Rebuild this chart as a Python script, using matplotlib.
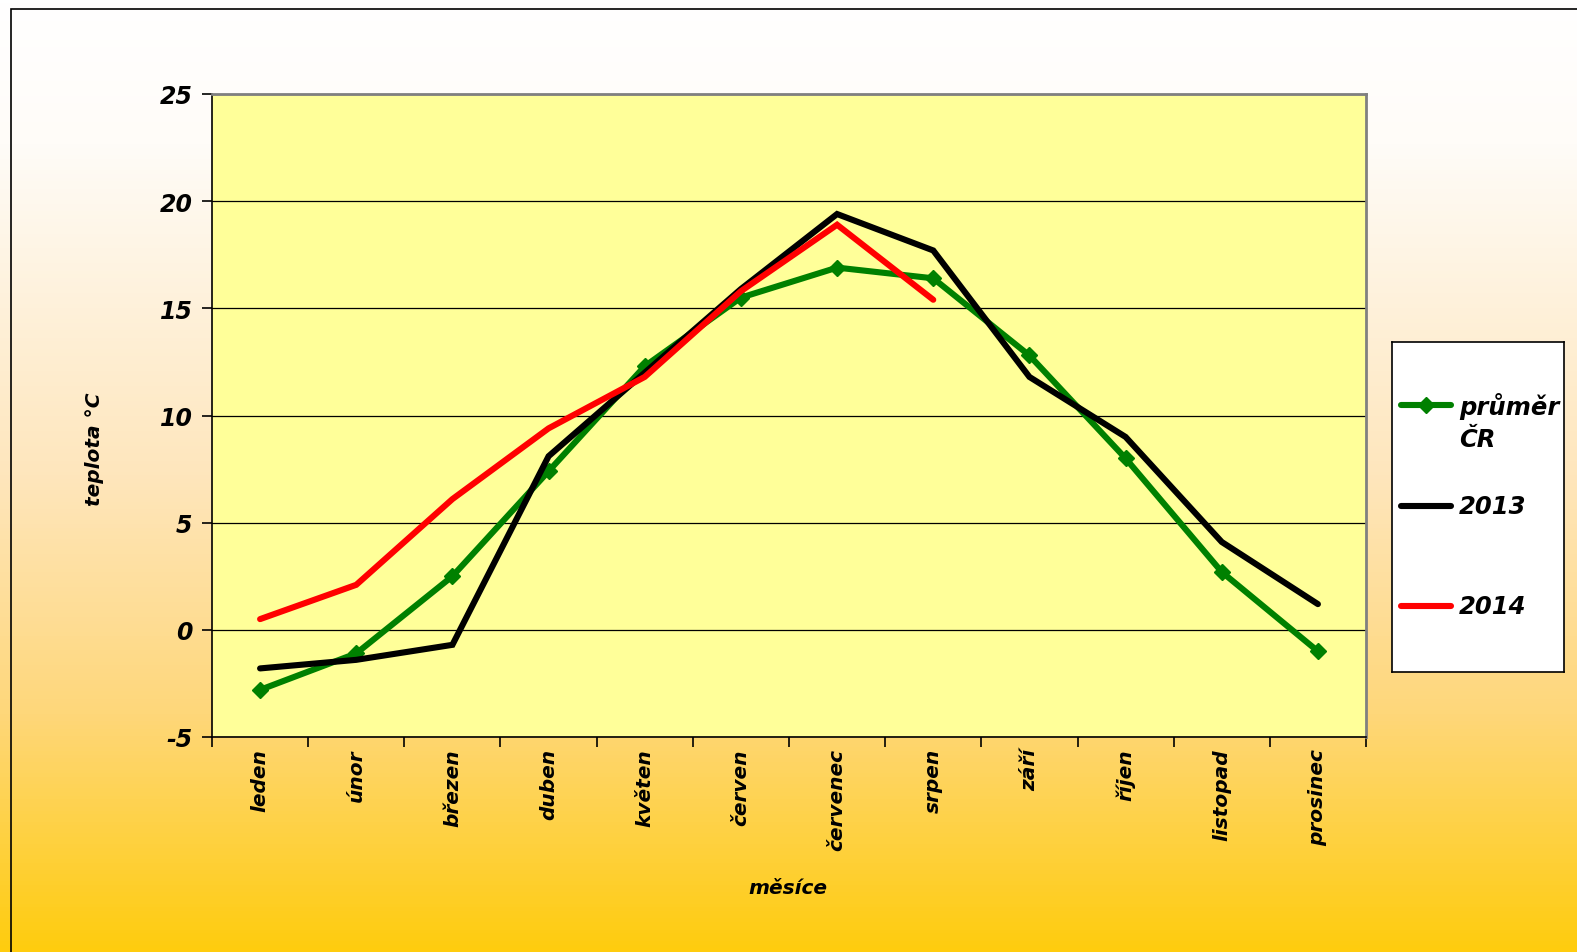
import matplotlib.pyplot as plt
import numpy as np
from matplotlib.colors import LinearSegmentedColormap
from matplotlib.lines import Line2D
from matplotlib.patches import Rectangle

months = ["leden", "únor", "březen", "duben", "květen", "červen",
          "červenec", "srpen", "září", "říjen", "listopad", "prosinec"]
prumer_cr = [-2.8, -1.1, 2.5, 7.4, 12.3, 15.5, 16.9, 16.4, 12.8, 8.0, 2.7, -1.0]
rok_2013 = [-1.8, -1.4, -0.7, 8.1, 12.0, 15.9, 19.4, 17.7, 11.8, 9.0, 4.1, 1.2]
rok_2014 = [0.5, 2.1, 6.1, 9.4, 11.8, 15.8, 18.9, 15.4]
y_ticks = [-5, 0, 5, 10, 15, 20, 25]

W, H = 1577, 953
FONT = dict(family="DejaVu Sans", weight="bold", style="italic")
LW = 4.4

fig = plt.figure(figsize=(W / 100, H / 100), dpi=100)

# background gradient (white -> peach -> golden yellow)
bg = fig.add_axes([0, 0, 1, 1], zorder=-10)
cmap = LinearSegmentedColormap.from_list(
    "bg", [(0.0, "#ffffff"), (0.15, "#fffcf8"), (0.5, "#fee6bc"),
           (0.75, "#fed77a"), (1.0, "#ffcc0e")])
grad = np.linspace(0, 1, 256).reshape(-1, 1)
bg.imshow(grad, aspect="auto", cmap=cmap, extent=[0, 1, 0, 1], origin="upper")
bg.add_patch(Rectangle((11 / W, -0.01), 1.0, 1 - 10 / H + 0.01,
                       fill=False, edgecolor="black", linewidth=1.2,
                       transform=bg.transAxes))
bg.set_xlim(0, 1)
bg.set_ylim(0, 1)
bg.axis("off")

# plot area
left, right, top, bottom = 212, 1366, 95, 738
ax = fig.add_axes([left / W, 1 - bottom / H, (right - left) / W, (bottom - top) / H])
ax.set_facecolor("#ffff99")

x = np.arange(len(months))
ax.plot(x, prumer_cr, color="#008000", linewidth=LW, marker="D",
        markersize=8, solid_capstyle="round", zorder=3)
ax.plot(x, rok_2013, color="black", linewidth=LW,
        solid_capstyle="round", solid_joinstyle="miter", zorder=4)
ax.plot(x[:len(rok_2014)], rok_2014, color="#ff0000", linewidth=LW,
        solid_capstyle="round", solid_joinstyle="miter", zorder=5)

ax.set_xlim(-0.5, len(months) - 0.5)
ax.set_ylim(-5, 25)
ax.set_yticks(y_ticks)
ax.set_yticklabels([str(v) for v in y_ticks], fontsize=17, **FONT)
ax.yaxis.grid(True, color="black", linewidth=0.9)
ax.set_axisbelow(True)

ax.set_xticks(np.arange(len(months) + 1) - 0.5)
ax.set_xticklabels([])
ax.set_xticks(x, minor=True)
ax.set_xticklabels(months, minor=True, rotation=90, fontsize=14.5,
                   va="top", ha="center", **FONT)
ax.tick_params(axis="x", which="minor", length=0, pad=8)
ax.tick_params(axis="x", which="major", length=7, width=1.2, direction="out")
ax.tick_params(axis="y", length=7, width=1.2, direction="out", pad=7)

for side in ("top", "right"):
    ax.spines[side].set_color("#808080")
    ax.spines[side].set_linewidth(2)
ax.spines["left"].set_color("black")
ax.spines["bottom"].set_color("black")
ax.spines["left"].set_linewidth(1.2)
ax.spines["bottom"].set_linewidth(1.2)

fig.text(94 / W, 1 - 449 / H, "teplota °C", rotation=90, ha="center",
         va="center", fontsize=14.5, **FONT)
fig.text(788 / W, 1 - 889 / H, "měsíce", ha="center", va="center",
         fontsize=14.5, **FONT)

# legend
lx0, ly0, lx1, ly1 = 1392, 343, 1564, 673
lax = fig.add_axes([lx0 / W, 1 - ly1 / H, (lx1 - lx0) / W, (ly1 - ly0) / H])
lax.set_xlim(lx0, lx1)
lax.set_ylim(ly1, ly0)
lax.set_facecolor("white")
lax.set_xticks([])
lax.set_yticks([])
for s in lax.spines.values():
    s.set_linewidth(1.2)
entries = [(["průměr", "ČR"], "#008000", True, 406, [415, 447]),
           (["2013"], "black", False, 507, [514]),
           (["2014"], "#ff0000", False, 607, [614])]
for lines, color, mark, yy, baselines in entries:
    lax.add_line(Line2D([1401, 1451], [yy, yy], color=color, linewidth=LW,
                        solid_capstyle="round"))
    if mark:
        lax.add_line(Line2D([1426], [yy], color=color, marker="D",
                            markersize=8, linestyle="none"))
    for text, base in zip(lines, baselines):
        lax.text(1459, base, text, fontsize=17.5, ha="left",
                 va="baseline", **FONT)

fig.savefig("out.png", dpi=100)
